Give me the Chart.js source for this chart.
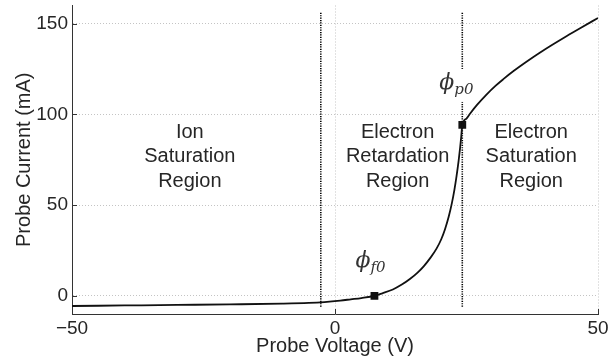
<!DOCTYPE html>
<html>
<head>
<meta charset="utf-8">
<script src="https://cdn.jsdelivr.net/npm/chart.js@4/dist/chart.umd.min.js"></script>
<style>
  html, body { margin: 0; padding: 0; background: #fff; }
  #wrap { width: 608px; height: 362px; }
</style>
</head>
<body>
<div id="wrap"><canvas id="probeChart"></canvas></div>
<script>
// Langmuir probe I-V trace
var voltage = [-50, -40, -30, -20, -10, -5, -2, 1, 3, 5, 7.5, 9, 11, 12.7, 14.3, 15.7, 16.9, 18.2, 19.3, 20.2, 20.9, 21.6, 22.2, 22.7, 23.1, 23.5, 23.8, 24.0, 24.2,
               25.0, 25.7, 27, 28.8, 30.5, 32, 34, 36.4, 39, 41.4, 44, 46.6, 50];
var current = [-5.6, -5.3, -5.0, -4.7, -4.3, -3.9, -3.4, -2.6, -1.9, -1.2, 0, 1.4, 3.5, 6.2, 9.4, 12.8, 16.4, 21.2, 26, 31.2, 36.6, 43.4, 50.8, 58.4, 65.8, 74.4, 82, 87.8, 94.2,
               97.7, 100.5, 105.2, 110.9, 115.7, 119.4, 124.0, 129.0, 134.1, 138.5, 143.1, 147.5, 153.1];

// floating potential and plasma potential points
var markerV = [7.5, 24.2];
var markerI = [0, 94.2];
var markerNames = [['\u03D5', 'f0'], ['\u03D5', 'p0']];

// dotted lines splitting the regions
var boundaryV = [-2.7, 24.2];
var boundaryI = [-6, 156];

var xTicks = [-50, 0, 50];
var yTicks = [0, 50, 100, 150];

var regionNames = [
    ['Ion', 'Saturation', 'Region'],
    ['Electron', 'Retardation', 'Region'],
    ['Electron', 'Saturation', 'Region']
];
var regionV = [-27.6, 11.9, 37.3];
var regionI = 73.5;

var textColor = '#262626';
var sansFont = '"Liberation Sans", Arial, sans-serif';
var serifFont = '"DejaVu Serif", "Liberation Serif", serif';

function xy(xs, ys) {
    return xs.map(function (v, i) { return { x: v, y: ys[i] }; });
}

var boundarySets = boundaryV.map(function (v) {
    return {
        type: 'line',
        data: [{ x: v, y: boundaryI[0] }, { x: v, y: boundaryI[1] }],
        borderColor: '#000',
        borderWidth: 1.6,
        borderDash: [1.2, 1.2],
        pointRadius: 0
    };
});

// labels, inward ticks and the gap round the phi_p0 label
var probeAnnotations = {
    id: 'probeAnnotations',
    afterDatasetsDraw: function (chart) {
        var ctx = chart.ctx;
        var xs = chart.scales.x, ys = chart.scales.y;
        var area = chart.chartArea;
        ctx.save();

        // region captions
        ctx.fillStyle = textColor;
        ctx.font = '20px ' + sansFont;
        ctx.textAlign = 'center';
        ctx.textBaseline = 'alphabetic';
        regionNames.forEach(function (lines, i) {
            var px = xs.getPixelForValue(regionV[i]);
            var mid = ys.getPixelForValue(regionI);
            lines.forEach(function (t, j) {
                ctx.fillText(t, px, mid + (j - 1) * 24.5);
            });
        });

        // phi labels next to the markers
        var offsets = [[-19, -29], [-23, -36]];
        markerNames.forEach(function (name, i) {
            var px = xs.getPixelForValue(markerV[i]);
            var py = ys.getPixelForValue(markerI[i]);
            var lx = px + offsets[i][0], ly = py + offsets[i][1];
            if (i === 1) {
                ctx.fillStyle = '#fff';
                ctx.fillRect(px - 4, ly - 20, 8, 33);
            }
            ctx.fillStyle = '#333';
            ctx.textAlign = 'left';
            ctx.font = 'italic 22px ' + serifFont;
            ctx.fillText(name[0], lx, ly);
            var w = ctx.measureText(name[0]).width;
            ctx.font = 'italic 15px ' + serifFont;
            ctx.fillText(name[1], lx + w, ly + 5);
        });

        // tick marks pointing into the plot
        ctx.strokeStyle = '#333';
        ctx.lineWidth = 1;
        ctx.beginPath();
        yTicks.forEach(function (v) {
            var py = Math.round(ys.getPixelForValue(v)) + 0.5;
            ctx.moveTo(area.left, py);
            ctx.lineTo(area.left + 5, py);
        });
        xTicks.forEach(function (v) {
            var px = Math.round(xs.getPixelForValue(v)) + 0.5;
            ctx.moveTo(px, area.bottom);
            ctx.lineTo(px, area.bottom - 5);
        });
        ctx.stroke();
        ctx.restore();
    }
};

var probeChart = new Chart(document.getElementById('probeChart'), {
    data: {
        datasets: [{
            type: 'line',
            data: xy(voltage, current),
            borderColor: '#111',
            borderWidth: 1.8,
            pointRadius: 0,
            cubicInterpolationMode: 'monotone'
        }].concat(boundarySets).concat([{
            type: 'scatter',
            data: xy(markerV, markerI),
            pointStyle: 'rect',
            pointRadius: 5.5,
            backgroundColor: '#111',
            borderColor: '#111',
            borderWidth: 0
        }])
    },
    options: {
        responsive: true,
        maintainAspectRatio: false,
        animation: false,
        devicePixelRatio: 1,
        layout: { padding: { top: 2, right: 10, left: 0, bottom: 0 } },
        plugins: {
            legend: { display: false },
            tooltip: { enabled: false }
        },
        scales: {
            x: {
                type: 'linear',
                min: -50,
                max: 50,
                afterBuildTicks: function (scale) {
                    scale.ticks = xTicks.map(function (v) { return { value: v }; });
                },
                afterFit: function (scale) {
                    scale.height = 48;
                    scale.paddingLeft = 0;
                    scale.paddingRight = 0;
                },
                grid: { color: '#c4c4c4', lineWidth: 1, drawTicks: false },
                border: { display: true, color: '#333', width: 1, dash: [1, 2] },
                ticks: {
                    padding: 3,
                    color: textColor,
                    font: { family: sansFont, size: 19 },
                    maxRotation: 0,
                    callback: function (v) { return v < 0 ? '\u2212' + Math.abs(v) : String(v); }
                },
                title: {
                    display: true,
                    text: 'Probe Voltage (V)',
                    color: textColor,
                    font: { family: sansFont, size: 20 },
                    padding: { top: 0, bottom: 4 }
                }
            },
            y: {
                type: 'linear',
                min: -10,
                max: 160,
                afterBuildTicks: function (scale) {
                    scale.ticks = yTicks.map(function (v) { return { value: v }; });
                },
                afterFit: function (scale) {
                    scale.width = 72;
                    scale.paddingTop = 0;
                    scale.paddingBottom = 0;
                },
                grid: { color: '#c4c4c4', lineWidth: 1, drawTicks: false },
                border: { display: true, color: '#333', width: 1, dash: [1, 2] },
                ticks: {
                    padding: 4,
                    color: textColor,
                    font: { family: sansFont, size: 19 }
                },
                title: {
                    display: true,
                    text: 'Probe Current (mA)',
                    color: textColor,
                    font: { family: sansFont, size: 20 },
                    padding: { top: 12, bottom: 0 }
                }
            }
        }
    },
    plugins: [probeAnnotations]
});
</script>
</body>
</html>
